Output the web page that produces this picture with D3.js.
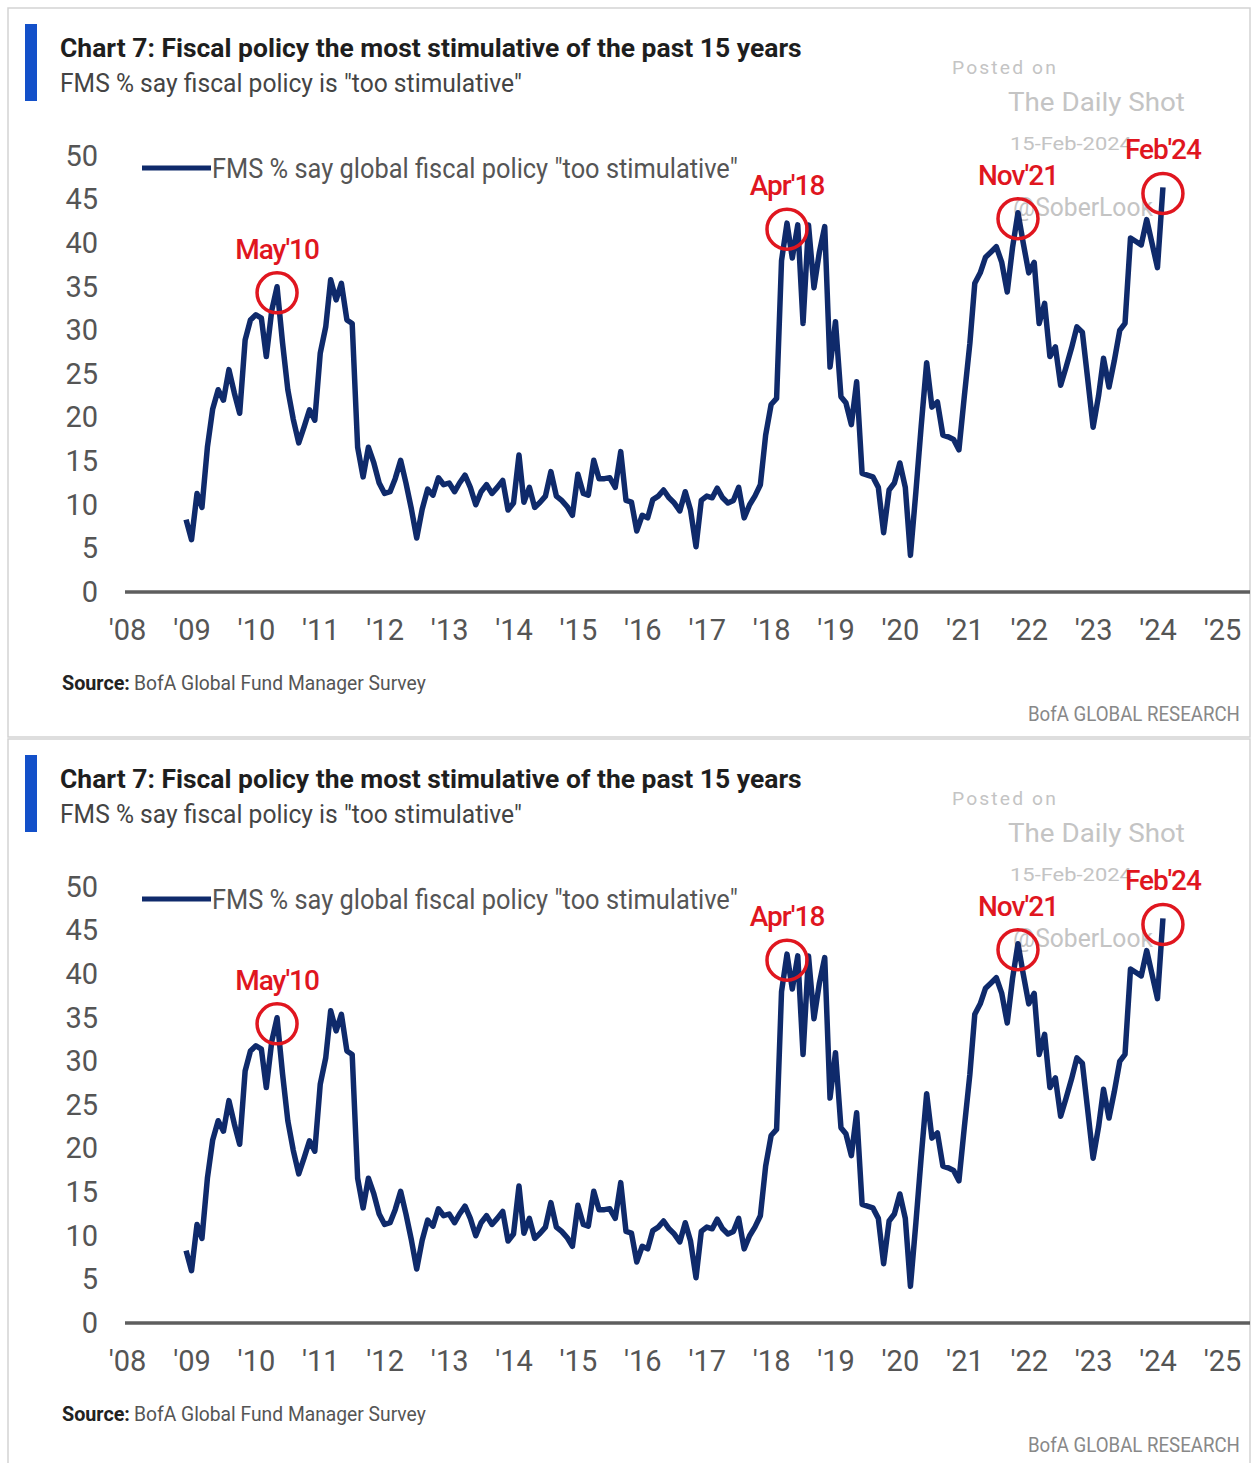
<!DOCTYPE html>
<html>
<head>
<meta charset="utf-8">
<script src="https://cdn.jsdelivr.net/npm/d3@7"></script>
<style>
  body { margin: 0; background: #fff; }
  svg text { font-family: "Liberation Sans Narrow", Roboto, "DejaVu Sans", sans-serif; }
</style>
</head>
<body>
<div id="chart"></div>
<script>
// monthly FMS readings, Dec 2008 .. Feb 2024
var startMonth = new Date(2008, 11, 1);
var fmsValues = [8.3, 6.0, 11.3, 9.7, 16.6, 21.0, 23.2, 22.0, 25.5, 22.8, 20.5, 28.9, 31.2, 31.8, 31.4, 27.0, 32.3, 35.0, 28.6, 23.2, 19.8, 17.1, 18.9, 20.9, 19.7, 27.4, 30.4, 35.8, 33.5, 35.4, 31.2, 30.8, 16.6, 13.2, 16.6, 14.8,
  12.5, 11.3, 11.5, 13.0, 15.1, 12.5, 9.5, 6.2, 9.5, 11.8,
  11.1, 13.1, 12.3, 12.5, 11.5, 12.5, 13.4, 12.0, 10.0, 11.5,
  12.3, 11.3, 12.0, 12.8, 9.4, 10.2, 15.7, 10.3, 12.0, 9.7,
  10.3, 11.0, 13.8, 11.0, 10.5, 9.8, 8.8, 13.5, 11.3, 11.1,
  15.1, 13.0, 13.0, 13.1, 12.0, 16.1, 10.5, 10.3, 7.0, 8.8,
  8.5, 10.6, 11.0, 11.7, 10.8, 10.2, 9.3, 11.5, 9.4, 5.2,
  10.5, 11.0, 10.8, 11.9, 10.8, 10.2, 10.5, 12.0, 8.5, 10.0,
  11.0, 12.3, 18.0, 21.5, 22.2, 38.0, 42.3, 38.3, 42.1, 30.8,
  42.1, 34.9, 38.9, 41.9, 25.8, 31.0, 22.4, 21.7, 19.2, 24.1,
  13.6, 13.4, 13.2, 12.0, 6.8, 11.7, 12.5, 14.8, 12.0, 4.2,
  11.5, 19.0, 26.3, 21.2, 21.8, 18.0, 17.8, 17.5, 16.3, 22.5,
  28.5, 35.4, 36.6, 38.4, 39.0, 39.6, 37.8, 34.4, 39.5, 43.5,
  40.0, 36.6, 37.8, 30.8, 33.1, 27.0, 28.1, 23.7, 25.8, 28.0,
  30.4, 29.8, 24.5, 18.9, 22.5, 26.8, 23.5, 26.5, 30.0, 30.8,
  40.6, 40.2, 39.8, 42.7, 40.0, 37.2, 46.4];

var yearTicks = d3.range(2008, 2026);
var yTicks = d3.range(0, 51, 5);
var peakLabels = ["May'10", "Apr'18", "Nov'21", "Feb'24"];
var peakMonths = [new Date(2010, 4, 1), new Date(2018, 3, 1), new Date(2021, 10, 1), new Date(2024, 1, 1)];

var titleText = "Chart 7: Fiscal policy the most stimulative of the past 15 years";
var subtitleText = "FMS % say fiscal policy is \"too stimulative\"";
var legendText = "FMS % say global fiscal policy \"too stimulative\"";
var sourceText = "BofA Global Fund Manager Survey";

var data = fmsValues.map(function(v, i) {
  return {date: d3.timeMonth.offset(startMonth, i), value: v};
});

var W = 1252, H = 1463, panelShift = 731;

var svg = d3.select("#chart").append("svg")
  .attr("width", W)
  .attr("height", H);

var x = d3.scaleTime()
  .domain([new Date(2008, 0, 1), new Date(2025, 0, 1)])
  .range([127, 1222]);
var y = d3.scaleLinear()
  .domain([0, 50])
  .range([592, 156]);

var navy = "#0f2a6b", red = "#e0161f";

// squeeze a text horizontally so it spans w pixels (the source font is condensed)
function fit(t, x0, y0, w) {
  var n = t.node().getComputedTextLength();
  t.attr("x", 0).attr("y", 0)
    .attr("transform", "translate(" + x0 + "," + y0 + ") scale(" + (w / n) + ",1)");
  return t;
}

function drawPanel(top) {
  var g = svg.append("g").attr("transform", "translate(0," + top + ")");

  // frame
  g.append("rect")
    .attr("x", 8).attr("y", 8)
    .attr("width", 1242).attr("height", 729)
    .attr("fill", "none")
    .attr("stroke", "#d3d3d3")
    .attr("stroke-width", 1.5);

  g.append("rect")
    .attr("x", 25).attr("y", 24)
    .attr("width", 12).attr("height", 77)
    .attr("fill", "#1350c9");

  fit(g.append("text")
    .style("font-size", "26px").style("font-weight", "bold")
    .style("fill", "#1e1e1e")
    .text(titleText), 60, 57, 742);

  fit(g.append("text")
    .style("font-size", "26px")
    .style("fill", "#444")
    .text(subtitleText), 60, 92, 462);

  // watermark
  var wm = g.append("g").style("fill", "#c4c4c4");
  fit(wm.append("text").style("font-size", "18px").style("font-family", "Roboto, sans-serif")
    .style("letter-spacing", "2px").text("Posted on"), 952, 74, 106);
  fit(wm.append("text").style("font-size", "26px").style("font-family", "Roboto, sans-serif")
    .text("The Daily Shot"), 1008, 111, 177);
  fit(wm.append("text").style("font-size", "18px").style("font-family", "Roboto, sans-serif")
    .text("15-Feb-2024"), 1010, 150, 122);
  fit(wm.append("text").style("font-size", "26px").style("font-family", "Roboto, sans-serif")
    .text("@SoberLook"), 1013, 216, 140);

  // y axis labels
  var yAxis = g.append("g")
    .attr("transform", "translate(104,0)")
    .call(d3.axisLeft(y).tickValues(yTicks).tickSize(0).tickPadding(6));
  yAxis.select(".domain").remove();
  yAxis.selectAll("text")
    .style("font-size", "29px")
    .style("fill", "#555");

  // x axis
  var xAxis = g.append("g")
    .attr("transform", "translate(0," + y(0) + ")")
    .call(d3.axisBottom(x)
      .tickValues(yearTicks.map(function(yr) { return new Date(yr, 0, 1); }))
      .tickFormat(function(d) { return "'" + String(d.getFullYear()).slice(2); })
      .tickSize(0).tickPadding(27));
  xAxis.select(".domain").remove();
  xAxis.selectAll("text")
    .style("font-size", "29px")
    .style("fill", "#555");

  g.append("line")
    .attr("x1", 125).attr("x2", 1250)
    .attr("y1", y(0)).attr("y2", y(0))
    .attr("stroke", "#5e5e5e")
    .attr("stroke-width", 3.5);

  // legend
  g.append("line")
    .attr("x1", 142).attr("x2", 211)
    .attr("y1", 168).attr("y2", 168)
    .attr("stroke", navy).attr("stroke-width", 5);
  fit(g.append("text")
    .style("font-size", "27px")
    .style("fill", "#555")
    .text(legendText), 212, 178, 526);

  // series
  var line = d3.line()
    .x(function(d) { return x(d.date); })
    .y(function(d) { return y(d.value); });
  g.append("path")
    .datum(data)
    .attr("d", line)
    .attr("fill", "none")
    .attr("stroke", navy)
    .attr("stroke-width", 5.5)
    .attr("stroke-linejoin", "round");

  // peaks
  peakMonths.forEach(function(m, i) {
    var d = data.find(function(p) { return +p.date === +m; });
    g.append("circle")
      .attr("cx", x(d.date)).attr("cy", y(d.value) + 6)
      .attr("r", 20)
      .attr("fill", "none")
      .attr("stroke", red)
      .attr("stroke-width", 3.5);
    g.append("text")
      .attr("x", x(d.date)).attr("y", y(d.value) - 28)
      .attr("text-anchor", "middle")
      .style("font-size", "28px")
      .style("font-family", "Roboto, sans-serif")
      .style("font-weight", "500")
      .style("letter-spacing", "-1px")
      .style("fill", red)
      .text(peakLabels[i]);
  });

  // footer
  fit(g.append("text")
    .style("font-size", "21px").style("font-weight", "bold")
    .style("fill", "#222")
    .text("Source:"), 62, 690, 68);
  fit(g.append("text")
    .style("font-size", "21px")
    .style("fill", "#555")
    .text(sourceText), 134, 690, 292);
  fit(g.append("text")
    .style("font-size", "20px")
    .style("fill", "#888")
    .text("BofA GLOBAL RESEARCH"), 1028, 721, 212);
}

drawPanel(0);
drawPanel(panelShift);
</script>
</body>
</html>
